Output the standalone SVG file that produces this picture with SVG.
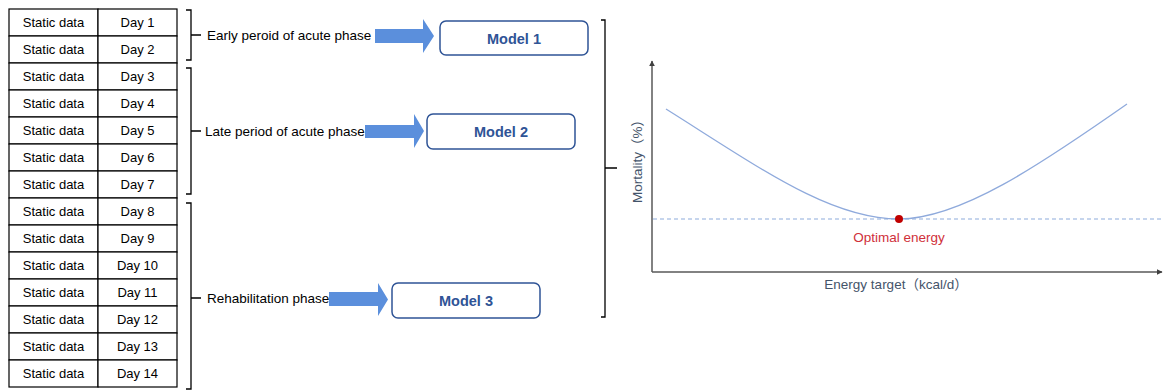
<svg xmlns="http://www.w3.org/2000/svg" width="1163" height="390" viewBox="0 0 1163 390">
<defs>
<style>
.cell{fill:#fff;stroke:#000;stroke-width:1.2}
.t{font-family:"Liberation Sans",Arial,sans-serif;font-size:13px;fill:#000;text-anchor:middle;dominant-baseline:central}
.lbl{font-family:"Liberation Sans",Arial,sans-serif;font-size:13.5px;fill:#000;dominant-baseline:central}
.br{fill:none;stroke:#000;stroke-width:1.3}
.arr{fill:#5b8fdc}
.model{fill:#fff;stroke:#2f5496;stroke-width:1.5}
.mt{font-family:"Liberation Sans",Arial,sans-serif;font-size:14.5px;font-weight:bold;fill:#2f5496;text-anchor:middle;dominant-baseline:central}
.axis{stroke:#595959;stroke-width:1.5;fill:none}
.ax{font-family:"Liberation Sans","Noto Sans CJK SC",Arial,sans-serif;font-size:13.5px;fill:#44546a;text-anchor:middle;dominant-baseline:central}
</style>
<marker id="ah" viewBox="0 0 10 10" refX="9" refY="5" markerWidth="6" markerHeight="6" orient="auto" markerUnits="userSpaceOnUse">
<path d="M0,0 L10,5 L0,10 z" fill="#404040"/>
</marker>
</defs>
<g id="table">
<rect class="cell" x="9" y="9" width="89" height="27"/><rect class="cell" x="98" y="9" width="79" height="27"/>
<rect class="cell" x="9" y="36" width="89" height="27"/><rect class="cell" x="98" y="36" width="79" height="27"/>
<rect class="cell" x="9" y="63" width="89" height="27"/><rect class="cell" x="98" y="63" width="79" height="27"/>
<rect class="cell" x="9" y="90" width="89" height="27"/><rect class="cell" x="98" y="90" width="79" height="27"/>
<rect class="cell" x="9" y="117" width="89" height="27"/><rect class="cell" x="98" y="117" width="79" height="27"/>
<rect class="cell" x="9" y="144" width="89" height="27"/><rect class="cell" x="98" y="144" width="79" height="27"/>
<rect class="cell" x="9" y="171" width="89" height="27"/><rect class="cell" x="98" y="171" width="79" height="27"/>
<rect class="cell" x="9" y="198" width="89" height="27"/><rect class="cell" x="98" y="198" width="79" height="27"/>
<rect class="cell" x="9" y="225" width="89" height="27"/><rect class="cell" x="98" y="225" width="79" height="27"/>
<rect class="cell" x="9" y="252" width="89" height="27"/><rect class="cell" x="98" y="252" width="79" height="27"/>
<rect class="cell" x="9" y="279" width="89" height="27"/><rect class="cell" x="98" y="279" width="79" height="27"/>
<rect class="cell" x="9" y="306" width="89" height="27"/><rect class="cell" x="98" y="306" width="79" height="27"/>
<rect class="cell" x="9" y="333" width="89" height="27"/><rect class="cell" x="98" y="333" width="79" height="27"/>
<rect class="cell" x="9" y="360" width="89" height="27"/><rect class="cell" x="98" y="360" width="79" height="27"/>
<text class="t" x="53.5" y="22.5">Static data</text><text class="t" x="137.5" y="22.5">Day 1</text>
<text class="t" x="53.5" y="49.5">Static data</text><text class="t" x="137.5" y="49.5">Day 2</text>
<text class="t" x="53.5" y="76.5">Static data</text><text class="t" x="137.5" y="76.5">Day 3</text>
<text class="t" x="53.5" y="103.5">Static data</text><text class="t" x="137.5" y="103.5">Day 4</text>
<text class="t" x="53.5" y="130.5">Static data</text><text class="t" x="137.5" y="130.5">Day 5</text>
<text class="t" x="53.5" y="157.5">Static data</text><text class="t" x="137.5" y="157.5">Day 6</text>
<text class="t" x="53.5" y="184.5">Static data</text><text class="t" x="137.5" y="184.5">Day 7</text>
<text class="t" x="53.5" y="211.5">Static data</text><text class="t" x="137.5" y="211.5">Day 8</text>
<text class="t" x="53.5" y="238.5">Static data</text><text class="t" x="137.5" y="238.5">Day 9</text>
<text class="t" x="53.5" y="265.5">Static data</text><text class="t" x="137.5" y="265.5">Day 10</text>
<text class="t" x="53.5" y="292.5">Static data</text><text class="t" x="137.5" y="292.5">Day 11</text>
<text class="t" x="53.5" y="319.5">Static data</text><text class="t" x="137.5" y="319.5">Day 12</text>
<text class="t" x="53.5" y="346.5">Static data</text><text class="t" x="137.5" y="346.5">Day 13</text>
<text class="t" x="53.5" y="373.5">Static data</text><text class="t" x="137.5" y="373.5">Day 14</text>
</g>
<g id="phase1">
<text class="lbl" x="207" y="35">Early peroid of acute phase</text>
</g>
<g id="phase2">
<text class="lbl" x="205" y="131">Late period of acute phase</text>
</g>
<g id="phase3">
<text class="lbl" x="207" y="298">Rehabilitation phase</text>
</g>
<g id="model1"><rect class="model" x="440" y="21" width="148" height="34" rx="6"/><text class="mt" x="514" y="38.5">Model 1</text></g>
<g id="model2"><rect class="model" x="427" y="114" width="148" height="35" rx="6"/><text class="mt" x="501" y="131.5">Model 2</text></g>
<g id="model3"><rect class="model" x="392" y="283" width="148" height="35" rx="6"/><text class="mt" x="466" y="300.5">Model 3</text></g>
<g id="connectors">
<path class="br" d="M186,10 H191 V60 H186 M191,35 H201"/>
<path class="br" d="M186,68 H191 V194 H186 M191,131 H201"/>
<path class="br" d="M186,203 H191 V389 H186 M191,298 H201"/>
<path class="br" d="M601,20 H605 V317 H601 M605,168 H617"/>
<path class="arr" d="M375,29 H423 V19 L434,36 L423,53 V43 H375 Z"/>
<path class="arr" d="M365,125 H414 V114 L424,131 L414,148 V138 H365 Z"/>
<path class="arr" d="M329,292 H378 V283 L388,299.5 L378,316 V306 H329 Z"/>
</g>
<g id="chart">
<line class="axis" x1="652" y1="272" x2="652" y2="61" marker-end="url(#ah)"/>
<line class="axis" x1="652" y1="272" x2="1162" y2="272" marker-end="url(#ah)"/>
<line x1="653" y1="219" x2="1163" y2="219" stroke="#b4c7e7" stroke-width="1.5" stroke-dasharray="4,3"/>
<path d="M666,109 C760,168 830,219 899,219 C960,219 1040,165 1127,104" fill="none" stroke="#8faadc" stroke-width="1.3"/>
<circle cx="899" cy="219" r="4" fill="#c00000"/>
<text x="899" y="237" font-family="'Liberation Sans',Arial,sans-serif" font-size="13.5" fill="#d0303a" text-anchor="middle" dominant-baseline="central">Optimal energy</text>
<text class="ax" x="896" y="284">Energy target（kcal/d）</text>
<text class="ax" transform="translate(637,158) rotate(-90)" x="0" y="0">Mortality（%）</text>
</g>
</svg>
